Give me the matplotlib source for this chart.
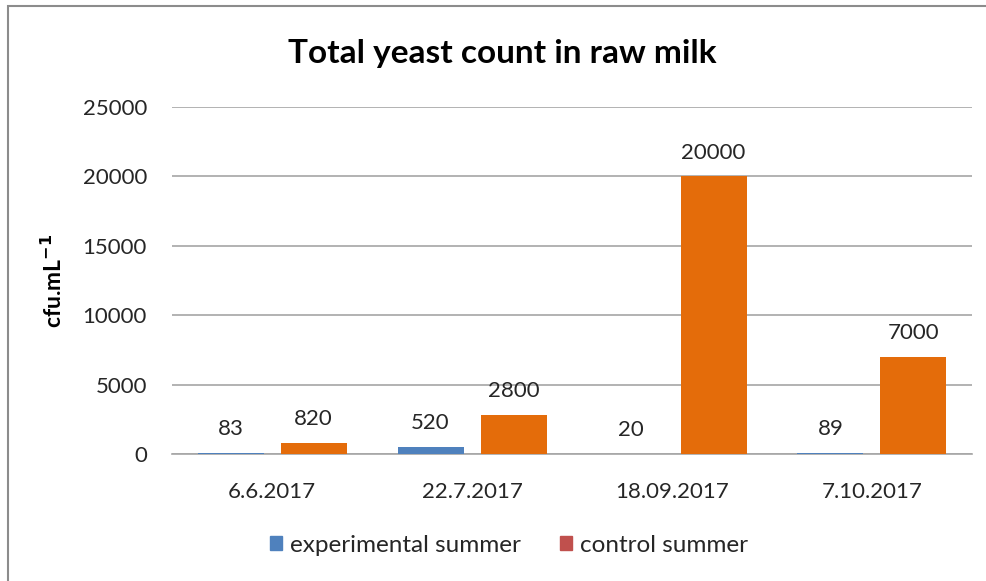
import matplotlib
matplotlib.use("Agg")
import matplotlib.pyplot as plt
import numpy as np
from matplotlib.patches import Patch, Rectangle

categories = ["6.6.2017", "22.7.2017", "18.09.2017", "7.10.2017"]
experimental = [83, 520, 20, 89]
control = [820, 2800, 20000, 7000]
series_names = ["experimental summer", "control summer"]
yticks = [0, 5000, 10000, 15000, 20000, 25000]

BLUE = "#4F81BD"
ORANGE = "#E46C0A"
RED = "#C0504D"
GRID = "#A6A6A6"
TXT = "#262626"

plt.rcParams['font.family'] = ['Lato', 'DejaVu Sans']

fig = plt.figure(figsize=(9.87, 5.81), dpi=100)
fig.patches.append(Rectangle((8/987, -0.1), 1.2, 1 - 6/581 + 0.1, transform=fig.transFigure,
                             fill=False, edgecolor="#8C8C8C", linewidth=1.5))

ax = fig.add_axes([172/987, 1 - 454/581, 800/987, 347/581])
x = np.arange(len(categories))
w = 0.33
off = 0.2075
ax.bar(x - off, experimental, w, color=BLUE, zorder=3, linewidth=0)
ax.bar(x + off, control, w, color=ORANGE, zorder=3, linewidth=0)

for xi, v in zip(x - off, experimental):
    ax.annotate(str(v), (xi, v), xytext=(0, 10), textcoords="offset points",
                ha="center", va="bottom", fontsize=16, color=TXT)
for xi, v in zip(x + off, control):
    ax.annotate(str(v), (xi, v), xytext=(0, 10), textcoords="offset points",
                ha="center", va="bottom", fontsize=16, color=TXT)

ax.set_xlim(-0.5, len(categories) - 0.5)
ax.set_ylim(0, 25000)
ax.set_yticks(yticks)
ax.set_yticklabels([str(t) for t in yticks])
ax.set_xticks(x)
ax.set_xticklabels(categories)
ax.tick_params(axis="y", length=0, pad=18, labelsize=16, labelcolor=TXT)
ax.tick_params(axis="x", length=0, pad=20, labelsize=16, labelcolor=TXT)
ax.yaxis.grid(True, color=GRID, linewidth=1.2, zorder=0)
for s in ["top", "right", "left"]:
    ax.spines[s].set_visible(False)
ax.spines["bottom"].set_color(GRID)
ax.spines["bottom"].set_linewidth(1.2)

ax.set_ylabel("cfu.mL$^{\\mathbf{-1}}$", fontsize=16.5, fontweight="bold", color="black")
ax.yaxis.set_label_coords(-0.133, 0.5)

fig.text(0.5085, 1 - 53/581, "Total yeast count in raw milk", ha="center", va="center",
         fontsize=24, fontweight="bold", color="black")

handles = [Patch(color=BLUE), Patch(color=RED)]
fig.legend(handles, series_names, loc="center", bbox_to_anchor=(0.516, 1 - 545/581), ncol=2,
           frameon=False, fontsize=17.5, handlelength=0.5, handleheight=0.5, handletextpad=0.33,
           columnspacing=1.6, labelcolor=TXT)

fig.savefig("out.png", dpi=100)
